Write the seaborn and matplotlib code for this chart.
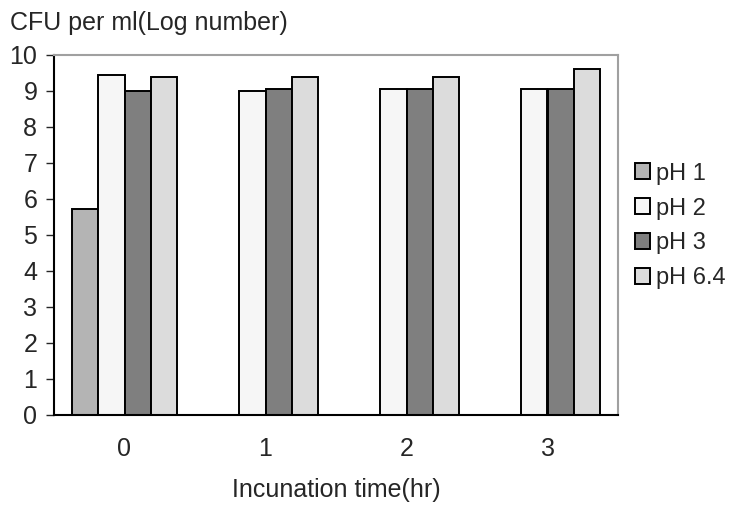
import matplotlib
matplotlib.use("Agg")
import matplotlib.pyplot as plt
import seaborn as sns
import pandas as pd

times = ["0", "1", "2", "3"]
series = ["pH 1", "pH 2", "pH 3", "pH 6.4"]
ph1 = [5.72, 0, 0, 0]
ph2 = [9.45, 9.0, 9.05, 9.05]
ph3 = [9.0, 9.05, 9.05, 9.05]
ph64 = [9.38, 9.38, 9.38, 9.6]
colors = ["#b4b4b4", "#f6f6f6", "#7f7f7f", "#dcdcdc"]

rows = []
for name, vals in zip(series, [ph1, ph2, ph3, ph64]):
    for t, v in zip(times, vals):
        rows.append({"time": t, "series": name, "value": v})
df = pd.DataFrame(rows)

sns.set_style("white")
plt.rcParams["font.family"] = ["Liberation Sans", "DejaVu Sans"]

fig = plt.figure(figsize=(7.49, 5.08), dpi=100)
ax = fig.add_axes([54/749, 93/508, (618-54)/749, (415-55)/508])
sns.barplot(data=df, x="time", y="value", hue="series", order=times,
            hue_order=series, palette=colors, width=0.74, gap=0,
            edgecolor="black", linewidth=1.4, ax=ax, saturation=1)

ax.set_ylim(0, 10)
ax.set_yticks(range(0, 11))
ax.set_xlim(-0.5, 3.5)
ax.tick_params(axis="y", direction="out", length=6, width=1, left=True, labelsize=18, pad=6)
ax.tick_params(axis="x", length=0, labelsize=18, pad=16)
ax.set_xlabel("Incunation time(hr)", fontsize=18, labelpad=12)
ax.set_ylabel("")
for s in ["left", "bottom"]:
    ax.spines[s].set_color("black")
    ax.spines[s].set_linewidth(1.5)
for s in ["top", "right"]:
    ax.spines[s].set_color("#a0a0a0")
    ax.spines[s].set_linewidth(1.5)
    ax.spines[s].set_visible(True)

fig.text(10/749, 1 - 23/508, "CFU per ml(Log number)", fontsize=18, va="center", ha="left")

leg = ax.legend(loc="center left", bbox_to_anchor=(1.0, 0.525), frameon=False,
                fontsize=17, handlelength=0.65, handleheight=0.65, handletextpad=0.25,
                labelspacing=0.55, borderaxespad=0.3)
for h in leg.legend_handles:
    h.set_edgecolor("black")
    h.set_linewidth(1.4)

fig.savefig("out.png", dpi=100)
